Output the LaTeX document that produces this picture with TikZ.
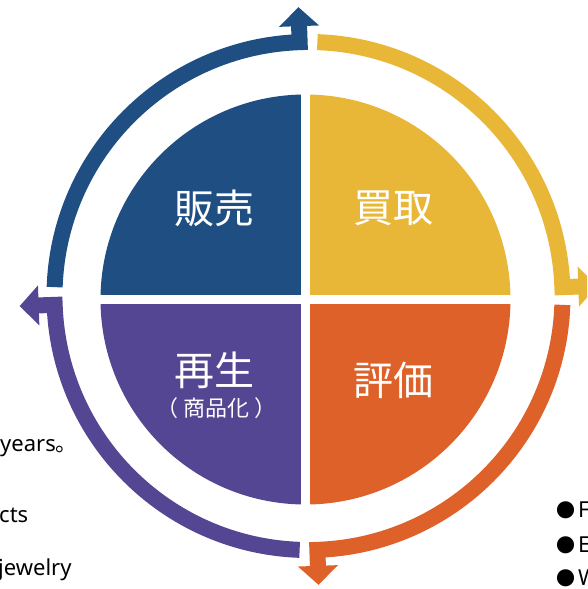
\documentclass[tikz,border=0pt]{standalone}
\usepackage{fontspec}
\setmainfont{Noto Sans CJK JP}
\newfontfamily\latinfont{Noto Sans}
\usetikzlibrary{positioning}
\definecolor{CYblue}{RGB}{31,79,130}
\definecolor{CYyellow}{RGB}{232,183,56}
\definecolor{CYorange}{RGB}{221,97,41}
\definecolor{CYpurple}{RGB}{84,70,146}
\newcommand{\bulletmark}{{\rmfamily\fontsize{19}{22}\selectfont ●}\hspace{3pt}}

\begin{document}
\begin{tikzpicture}[x=1pt, y=1pt,
    qtext/.style={text=white, font=\fontsize{40}{44}\selectfont, inner sep=0pt},
    qsub/.style={text=white, font=\fontsize{22}{24}\selectfont, inner sep=0pt},
    edgetext/.style={text=black, font=\latinfont\fontsize{22}{24}\selectfont, inner sep=0pt, anchor=west}]
  \useasboundingbox (-305.5,-289.5) rectangle (281.5,299.5);
  \clip (-305.5,-289.5) rectangle (281.5,299.5);
  % Quadrants
  \foreach \a/\c in {90/CYblue, 0/CYyellow, -90/CYorange, 180/CYpurple}{
    \fill[\c] (0,0) -- (\a:205pt) arc[start angle=\a, end angle=\a+90, radius=205pt] -- cycle;
  }
  \draw[white, line width=9pt] (-210,0) -- (210,0);
  \draw[white, line width=9pt] (0,-210) -- (0,210);
  \node[qtext] (sell) at (-90.5,91.5) {販売};
  \node[qtext] (buy) at (87.5,91.5) {買取};
  \node[qtext] (regen) at (-90.5,-70.5) {再生};
  \node[qsub] (goods) at (-88.5,-108.5) {（\hspace{5pt}商品化\hspace{5pt}）};
  \node[qtext] (rate) at (87.5,-80.5) {評価};
  % Ring with arrows
  \begin{scope}[shift={(3,3.5)}]
    \foreach \r/\c in {0/CYblue, -90/CYyellow, -180/CYorange, 90/CYpurple}{
      \begin{scope}[rotate=\r]
        \draw[\c, line width=16pt, line join=miter] (178:254pt)
          arc[start angle=178, end angle=92, radius=254pt] -- (92:271pt);
        \fill[\c, rotate=2] (-20,270) -- (0,289) -- (20,270) -- cycle;
      \end{scope}
    }
  \end{scope}
  % Cut text at the edges
  \node[edgetext] (years) at (-305.5,-148.5) {years{\rmfamily 。}};
  \node[edgetext] (cts) at (-306.5,-215.5) {cts};
  \node[edgetext] (jewel) at (-307.5,-270.5) {jewelry};
  \node[edgetext] (itemf) at (250.5,-210.5) {\bulletmark F};
  \node[edgetext] (iteme) at (250.5,-245.5) {\bulletmark E};
  \node[edgetext] (itemw) at (250.5,-278.5) {\bulletmark W};
\end{tikzpicture}
\end{document}
